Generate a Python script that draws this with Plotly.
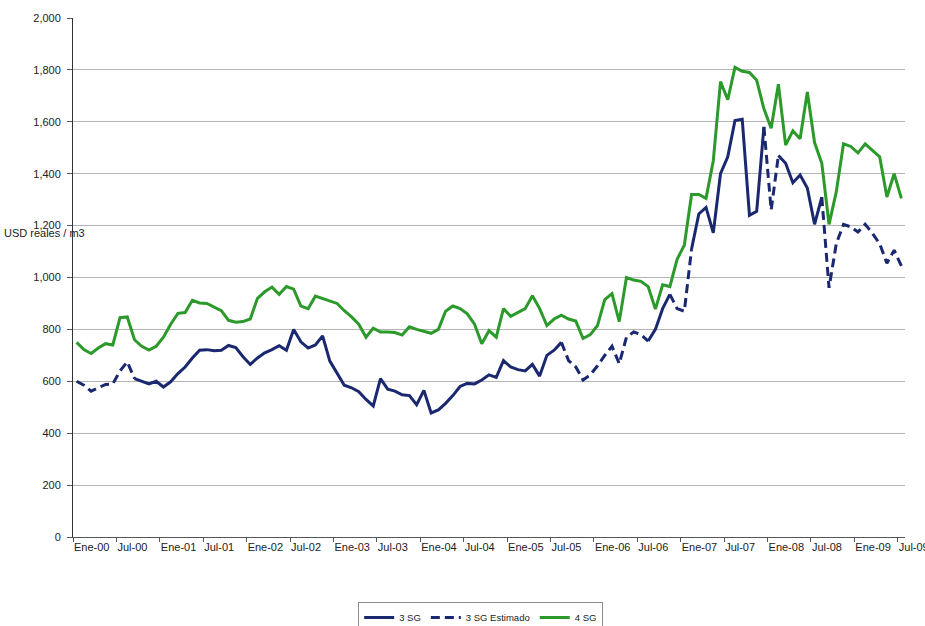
import plotly.graph_objects as go

# ---- data -------------------------------------------------------------
month_idx = list(range(115))  # Jan-2000 ... Jul-2009 (monthly)

tick_labels = ["Ene-00", "Jul-00", "Ene-01", "Jul-01", "Ene-02", "Jul-02",
               "Ene-03", "Jul-03", "Ene-04", "Jul-04", "Ene-05", "Jul-05",
               "Ene-06", "Jul-06", "Ene-07", "Jul-07", "Ene-08", "Jul-08",
               "Ene-09", "Jul-09"]

sg3 = [
    None, None, None, None, None, None, None, None, 610, 600,
    590, 600, 578, 598, 630, 655, 690, 720, 722, 718,
    720, 738, 730, 695, 665, 690, 710, 722, 737, 720,
    800, 752, 728, 740, 775, 678, 630, 585, 575, 560,
    530, 505, 610, 570, 562, 548, 545, 510, 565, 478,
    490, 515, 545, 580, 592, 590, 605, 625, 615, 680,
    655, 645, 640, 665, 620, 700, 720, 750, None, None,
    None, None, None, None, None, None, None, None, None, 755,
    800, 880, 935, None, None, 1110, 1245, 1270, 1172, 1400,
    1465, 1605, 1610, 1240, 1255, 1580, None, 1470, 1440, 1365,
    1395, 1345, 1205, 1310, None, None, None, None, None, None,
    None, None, None, None, None,
]

sg3_est = [
    600, 585, 562, 575, 588, 590, 640, 675, 610, None,
    None, None, None, None, None, None, None, None, None, None,
    None, None, None, None, None, None, None, None, None, None,
    None, None, None, None, None, None, None, None, None, None,
    None, None, None, None, None, None, None, None, None, None,
    None, None, None, None, None, None, None, None, None, None,
    None, None, None, None, None, None, None, 750, 680, 655,
    605, 625, 660, 700, 735, 668, 770, 790, 780, 755,
    None, None, 935, 880, 870, 1110, None, None, None, None,
    None, None, None, None, None, 1580, 1260, 1470, None, None,
    None, None, None, 1310, 960, 1130, 1205, 1195, 1175, 1205,
    1170, 1130, 1055, 1105, 1045,
]

sg4 = [
    750, 722, 707, 728, 745, 740, 845, 848, 760, 735,
    720, 735, 770, 820, 862, 865, 912, 902, 900, 885,
    872, 835, 828, 830, 840, 920, 945, 963, 935, 965,
    955, 890, 880, 928, 918, 908, 900, 872, 848, 820,
    770, 805, 790, 790, 788, 778, 810, 800, 793, 785,
    800, 870, 890, 880, 860, 820, 745, 795, 770, 880,
    850, 865, 880, 930, 880, 815, 840, 855, 840, 832,
    765, 780, 815, 915, 938, 830, 1000, 990, 985, 965,
    878, 972, 965, 1070, 1125, 1320, 1320, 1305, 1450, 1755,
    1685, 1810, 1795, 1790, 1760, 1650, 1575, 1745, 1510, 1565,
    1535, 1715, 1520, 1440, 1205, 1330, 1515, 1505, 1480, 1515,
    1490, 1465, 1310, 1400, 1305,
]

# ---- figure -------------------------------------------------------------
NAVY = "#1a2870"
GREEN = "#2b9a2b"
FONT = "Liberation Sans, Arial, sans-serif"

fig = go.Figure()
fig.add_trace(go.Scatter(x=month_idx, y=sg3, mode="lines", name="3 SG",
                         line=dict(color=NAVY, width=3), connectgaps=False))
fig.add_trace(go.Scatter(x=month_idx, y=sg3_est, mode="lines", name="3 SG Estimado",
                         line=dict(color=NAVY, width=3, dash="9px,5px"),
                         connectgaps=False))
fig.add_trace(go.Scatter(x=month_idx, y=sg4, mode="lines", name="4 SG",
                         line=dict(color=GREEN, width=3), connectgaps=False))

tick_vals = [-0.5 + 6 * k for k in range(len(tick_labels))]

fig.update_layout(
    width=925, height=626,
    margin=dict(l=73, r=20, t=18, b=89, autoexpand=False),
    paper_bgcolor="white", plot_bgcolor="white",
    font=dict(family=FONT, size=11, color="#222222"),
    showlegend=True,
    legend=dict(orientation="h", x=0.49, xanchor="center", y=-0.125, yanchor="top",
                bordercolor="#8c8c8c", borderwidth=1, bgcolor="white",
                font=dict(size=9.5, color="#222222"), itemwidth=30,
                tracegroupgap=0),
    xaxis=dict(range=[-0.5, 114.5], tickmode="array", tickvals=tick_vals,
               ticktext=tick_labels, ticklabelposition="outside right",
               ticklabeloverflow="allow",
               showgrid=False, zeroline=False, showline=True,
               linecolor="#555555", linewidth=1, ticks="outside", ticklen=4,
               tickcolor="#555555", tickfont=dict(size=11)),
    yaxis=dict(range=[0, 2000], dtick=200, tickformat=",d",
               showgrid=True, gridcolor="#b4b4b4", gridwidth=1,
               zeroline=False, showline=True, linecolor="#333333", linewidth=1,
               ticks="outside", ticklen=5, tickcolor="#555555",
               ticklabelstandoff=4, tickfont=dict(size=11)),
)

fig.add_annotation(text="USD reales / m3", xref="paper", yref="y",
                   x=-0.0853, y=1200, xanchor="left", yanchor="middle",
                   yshift=-7, showarrow=False,
                   font=dict(family=FONT, size=11, color="#222222"))

fig.write_html("out.html")
